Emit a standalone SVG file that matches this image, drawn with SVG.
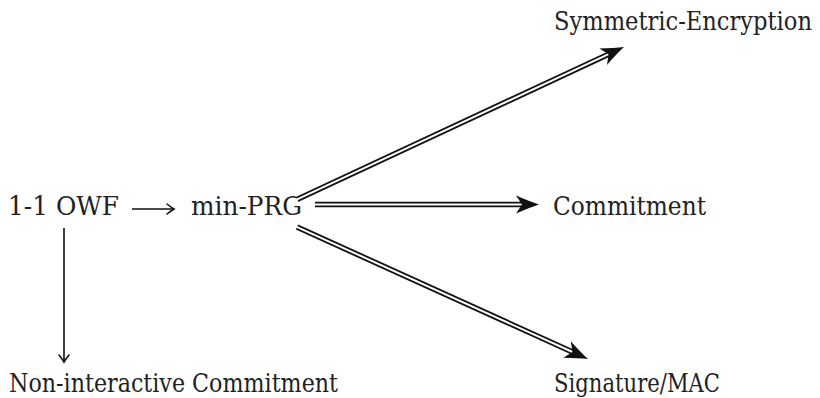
<svg xmlns="http://www.w3.org/2000/svg" width="820" height="398" viewBox="0 0 820 398">
<style>
.lbl{font-family:'DejaVu Serif','Liberation Serif',serif;font-size:26px;fill:#222}
.single{fill:none;stroke:#111;stroke-width:1.6}
.dblo{fill:none;stroke:#111;stroke-width:5.6}
.dbli{fill:none;stroke:#fff;stroke-width:2}
</style>
<defs>
<marker id="to" markerUnits="userSpaceOnUse" markerWidth="16" markerHeight="16" viewBox="-9 -8 16 16" refX="0" refY="0" orient="auto">
<path d="M-7,-5 Q-2.5,-1.4 0,0 Q-2.5,1.4 -7,5" fill="none" stroke="#111" stroke-width="1.6" stroke-linecap="round"/>
</marker>
<marker id="dbl" markerUnits="userSpaceOnUse" markerWidth="32" markerHeight="24" viewBox="-25 -12 32 24" refX="-17" refY="0" orient="auto">
<path d="M0,0 C-6,-2 -14,-5 -23,-9 L-17,0 L-23,9 C-14,5 -6,2 0,0 Z" fill="#111"/>
</marker>
</defs>
<g id="n-owf"><text class="lbl" x="8" y="215" textLength="111" lengthAdjust="spacingAndGlyphs">1-1 OWF</text></g>
<g id="n-prg"><text class="lbl" x="191" y="215" textLength="111" lengthAdjust="spacingAndGlyphs">min-PRG</text></g>
<g id="n-sym"><text class="lbl" x="554" y="30" font-size="23.5" textLength="258" lengthAdjust="spacingAndGlyphs">Symmetric-Encryption</text></g>
<g id="n-com"><text class="lbl" x="553" y="215" textLength="153" lengthAdjust="spacingAndGlyphs">Commitment</text></g>
<g id="n-sig"><text class="lbl" x="554" y="392" textLength="166" lengthAdjust="spacingAndGlyphs">Signature/MAC</text></g>
<g id="n-nic"><text class="lbl" x="9" y="392" textLength="329" lengthAdjust="spacingAndGlyphs">Non-interactive Commitment</text></g>
<g id="connectors">
<path class="single" d="M132,209 H174" marker-end="url(#to)"/>
<path class="single" d="M64,228 V362" marker-end="url(#to)"/>
<path class="dblo" d="M315,204.5 H522"/>
<path class="dbli" d="M313,204.5 H522" marker-end="url(#dbl)"/>
<path class="dblo" d="M298,199 L608.6,54.2"/>
<path class="dbli" d="M296,199.9 L608.6,54.2" marker-end="url(#dbl)"/>
<path class="dblo" d="M297,227 L572.5,352"/>
<path class="dbli" d="M295,226.1 L572.5,352" marker-end="url(#dbl)"/>
</g>
</svg>
